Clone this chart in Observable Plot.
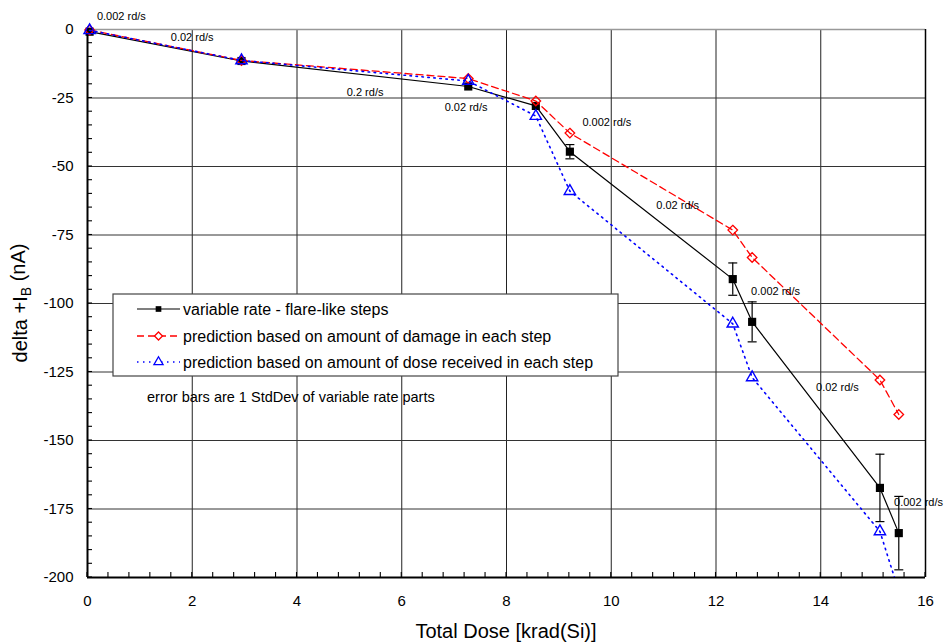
<!DOCTYPE html>
<html><head><meta charset="utf-8">
<script src="https://cdn.jsdelivr.net/npm/d3@7"></script>
<script src="https://cdn.jsdelivr.net/npm/@observablehq/plot@0.6"></script>
<style>
body{margin:0;background:#fff;font-family:Arial,"Liberation Sans",sans-serif}
</style>
</head><body><div id="chart"></div>
<script>
// ---- data ----
const doses        = [0.04, 2.94, 7.27, 8.56, 9.21, 12.32, 12.69, 15.13, 15.49];
const measured     = [-0.8, -11.5, -20.8, -27.9, -44.6, -91.1, -106.7, -167.3, -183.8];
const measuredErr  = [0, 0, 0, 0, 2.6, 5.9, 7.3, 12.3, 13.4];
const damagePred   = [-0.2, -11.3, -17.9, -26.1, -37.8, -73.2, -83.2, -127.9, -140.5];
const dosePred     = [-0.3, -11.3, -18.8, -31.6, -59.0, -107.4, -127.0, -183.2, -205.0];

const rateLabels = ["0.002 rd/s","0.02 rd/s","0.2 rd/s","0.02 rd/s","0.002 rd/s","0.02 rd/s","0.002 rd/s","0.02 rd/s","0.002 rd/s"];
const rateX      = [0.18, 1.59, 4.95, 6.82, 9.45, 10.86, 12.67, 13.91, 15.4];
const rateY      = [4.9, -2.8, -22.9, -28.4, -33.9, -64.2, -95.6, -130.7, -172.7];

const xTicks = [0,2,4,6,8,10,12,14,16];
const yTicks = [0,-25,-50,-75,-100,-125,-150,-175,-200];
const xMinor = d3.range(0, 16.001, 0.4);
const yMinor = d3.range(-200, 0.001, 5);

const seriesNames = [
  "variable rate - flare-like steps",
  "prediction based on amount of damage in each step",
  "prediction based on amount of dose received in each step"
];
const noteText = "error bars are 1 StdDev of variable rate parts";
const xTitle = "Total Dose [krad(Si)]";

// ---- tables ----
const measRows = doses.map((d,i)=>({dose:d, value:measured[i], err:measuredErr[i]}));
const errRows = measRows.filter(d=>d.err>0);
const capRows = errRows.flatMap(d=>[{dose:d.dose, value:d.value+d.err},{dose:d.dose, value:d.value-d.err}]);
const dmgRows = doses.map((d,i)=>({dose:d, value:damagePred[i]}));
const dosRows = doses.map((d,i)=>({dose:d, value:dosePred[i]}));
const labelRows = rateLabels.map((t,i)=>({text:t, x:rateX[i], y:rateY[i]}));
const inFrame = d => d.value >= -200;

const capSymbol = {draw(ctx){ ctx.moveTo(-4.5,0); ctx.lineTo(4.5,0); }};
const FONT = "Arial, 'Liberation Sans', sans-serif";

const plot = Plot.plot({
  width: 944, height: 642,
  marginLeft: 87, marginRight: 19, marginTop: 29, marginBottom: 65,
  style: {fontFamily: FONT, fontSize: "15px", color: "#000", background: "#fff", overflow: "visible"},
  x: {domain: [0,16], ticks: xTicks, tickSize: 0, tickPadding: 18, label: null, tickFormat: d=>String(d)},
  y: {domain: [-200,0], ticks: yTicks, tickSize: 0, tickPadding: 14, label: null, tickFormat: d=>String(d)},
  marks: [
    Plot.gridX(xTicks, {stroke: "#222", strokeOpacity: 1, strokeWidth: 1}),
    Plot.gridY(yTicks.filter(v=>v!==0), {stroke: "#333", strokeOpacity: 1, strokeWidth: 1}),
    Plot.ruleY([0], {stroke: "#999", strokeWidth: 1.5}),
    Plot.ruleX([16], {stroke: "#000", strokeWidth: 1.5}),
    Plot.ruleX([0], {stroke: "#000", strokeWidth: 2}),
    Plot.ruleY([-200], {stroke: "#000", strokeWidth: 2}),
    // measured
    Plot.ruleX(errRows, {x: "dose", y1: d=>d.value-d.err, y2: d=>d.value+d.err, stroke: "#000", strokeWidth: 1.2}),
    Plot.dot(capRows, {x: "dose", y: "value", symbol: capSymbol, stroke: "#000", strokeWidth: 1.2, fill: "none"}),
    Plot.line(measRows, {x: "dose", y: "value", stroke: "#000", strokeWidth: 1.2}),
    Plot.dot(measRows, {x: "dose", y: "value", symbol: "square", r: 4.6, fill: "#000", stroke: "none"}),
    // damage prediction
    Plot.line(dmgRows, {x: "dose", y: "value", stroke: "#f00", strokeWidth: 1.3, strokeDasharray: "7,4"}),
    Plot.dot(dmgRows, {x: "dose", y: "value", symbol: "diamond2", r: 4.3, fill: "none", stroke: "#f00", strokeWidth: 1.3}),
    // dose prediction
    Plot.line(dosRows, {x: "dose", y: "value", stroke: "#00f", strokeWidth: 1.6, strokeDasharray: "1.5,4.5", clip: true}),
    Plot.dot(dosRows, {x: "dose", y: "value", filter: inFrame, symbol: "triangle", r: 4.2, fill: "none", stroke: "#00f", strokeWidth: 1.4}),
    // rate annotations
    Plot.text(labelRows, {x: "x", y: "y", text: "text", textAnchor: "start", fontSize: 11, fill: "#000"})
  ]
});

document.getElementById("chart").appendChild(plot);

// ---- extras drawn with the plot's own scales ----
const svg = d3.select(plot.tagName.toLowerCase()==="svg" ? plot : plot.querySelector("svg"));
const sx = plot.scale("x"), sy = plot.scale("y");
const x0 = sx.apply(0), y0 = sy.apply(-200);

// minor ticks (inward)
const g = svg.append("g").attr("stroke", "#000").attr("stroke-width", 1.1);
xMinor.forEach(v => g.append("line").attr("x1", sx.apply(v)).attr("x2", sx.apply(v)).attr("y1", y0).attr("y2", y0-5));
yMinor.forEach(v => g.append("line").attr("y1", sy.apply(v)).attr("y2", sy.apply(v)).attr("x1", x0).attr("x2", x0+5));

// axis titles
svg.append("text").attr("x", (sx.apply(0)+sx.apply(16))/2).attr("y", 638)
  .attr("text-anchor", "middle").attr("font-size", 20).attr("font-family", FONT).text(xTitle);
const yt = svg.append("text").attr("transform", `translate(27,${(sy.apply(0)+sy.apply(-200))/2}) rotate(-90)`)
  .attr("text-anchor", "middle").attr("font-size", 20).attr("font-family", FONT);
yt.append("tspan").text("delta +I");
yt.append("tspan").attr("font-size", 14).attr("dy", "0.3em").text("B");
yt.append("tspan").attr("dy", "-0.3em").text(" (nA)");

// legend
const lg = svg.append("g").attr("font-family", FONT).attr("text-anchor", "start");
lg.append("rect").attr("x", 113).attr("y", 294).attr("width", 505).attr("height", 82)
  .attr("fill", "#fff").attr("stroke", "#444").attr("stroke-width", 1.2);
const legendStyles = [
  {stroke: "#000", dash: null, w: 1.2, sym: d3.symbolSquare, fill: "#000", symStroke: "none", size: Math.PI*3.2*3.2},
  {stroke: "#f00", dash: "7,4", w: 1.3, sym: d3.symbolDiamond2, fill: "none", symStroke: "#f00", size: Math.PI*3.6*3.6},
  {stroke: "#00f", dash: "1.5,4.5", w: 1.6, sym: d3.symbolTriangle, fill: "none", symStroke: "#00f", size: Math.PI*3.4*3.4}
];
const rowY = [309, 336, 362];
seriesNames.forEach((name, i) => {
  const s = legendStyles[i];
  lg.append("line").attr("x1", 137).attr("x2", 180).attr("y1", rowY[i]).attr("y2", rowY[i])
    .attr("stroke", s.stroke).attr("stroke-width", s.w).attr("stroke-dasharray", s.dash);
  lg.append("path").attr("d", d3.symbol(s.sym, s.size)()).attr("transform", `translate(158.5,${rowY[i]})`)
    .attr("fill", s.fill === "none" ? "#fff" : s.fill).attr("stroke", s.symStroke).attr("stroke-width", 1.3);
  lg.append("text").attr("x", 183).attr("y", rowY[i]).attr("dy", "0.36em").attr("font-size", 16)
    .attr("text-anchor", "start").text(name);
});
svg.append("text").attr("x", 147).attr("y", 397).attr("dy", "0.36em").attr("font-size", 14.5)
  .attr("font-family", FONT).attr("text-anchor", "start").text(noteText);
</script>
</body></html>
